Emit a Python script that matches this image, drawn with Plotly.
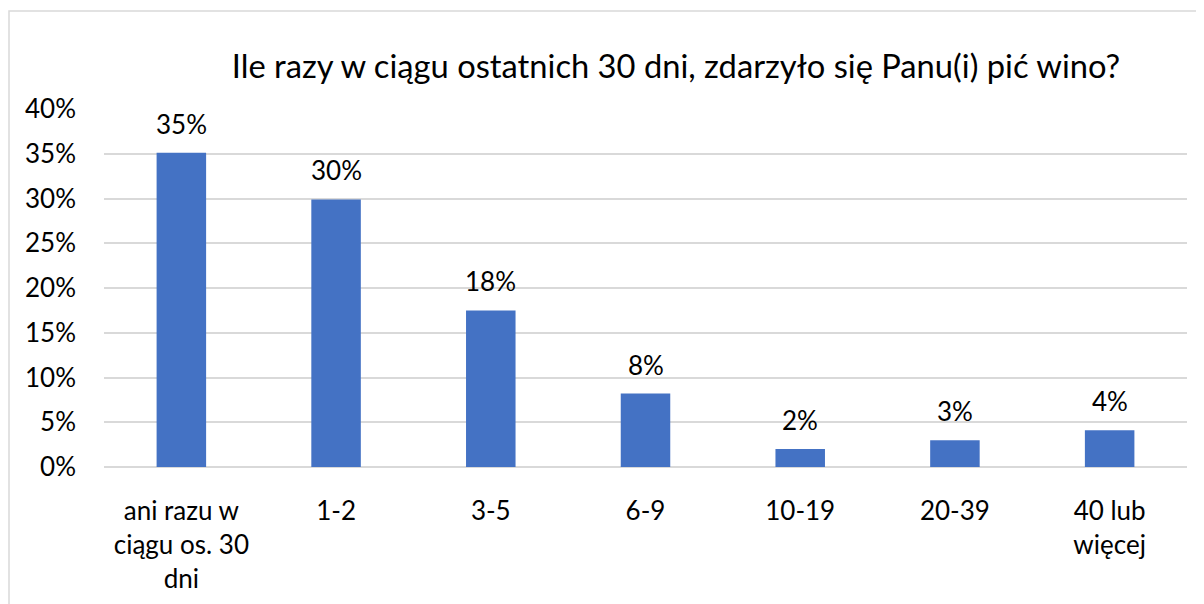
import plotly.graph_objects as go

categories = ["ani razu w<br>ciągu os. 30<br>dni", "1-2", "3-5", "6-9", "10-19", "20-39", "40 lub<br>więcej"]
values = [0.351, 0.299, 0.175, 0.082, 0.020, 0.030, 0.041]
y_ticks = [0, 0.05, 0.10, 0.15, 0.20, 0.25, 0.30, 0.35, 0.40]
title_text = "Ile razy w ciągu ostatnich 30 dni, zdarzyło się Panu(i) pić wino?"

FONT = "Lato"
OFF = 8  # page body margin
W, H = 1204 - OFF, 604 - OFF
L, R, T, B = 104 - OFF, 1204 - 1187, 109 - OFF, 604 - 467

fig = go.Figure()
fig.add_trace(go.Bar(
    x=categories, y=values,
    marker=dict(color="#4472C4", line=dict(width=0)),
    width=0.32,
    hoverinfo="skip",
))

for c, v in zip(categories, values):
    fig.add_annotation(x=c, y=v, xref="x", yref="y", text=f"{v:.0%}",
                       showarrow=False, yanchor="bottom", yshift=11,
                       font=dict(family=FONT, size=26, color="#000000"))

pw, ph = W - L - R, H - T - B
fig.add_shape(type="rect", xref="paper", yref="paper",
              x0=(9 - OFF - L) / pw, x1=(W + 20 - L) / pw,
              y0=-(B + 20) / ph, y1=(H - B - (11 - OFF)) / ph,
              line=dict(color="#D9D9D9", width=1.5), layer="below")

fig.update_layout(
    width=W, height=H,
    margin=dict(l=L, r=R, t=T, b=B, autoexpand=False),
    paper_bgcolor="white", plot_bgcolor="white",
    showlegend=False,
    title=dict(text=title_text, x=(676 - OFF) / W, xanchor="center", xref="container",
               y=1 - (67 - OFF) / H, yanchor="middle", yref="container",
               font=dict(family=FONT, size=32.7, color="#000000")),
    font=dict(family=FONT, size=26, color="#000000"),
)
fig.update_xaxes(showgrid=False, showline=False, ticks="", tickangle=0,
                 tickfont=dict(family=FONT, size=26, color="#000000"),
                 ticklabelstandoff=26)
fig.update_yaxes(range=[0, 0.4], tickvals=y_ticks, tickformat=".0%",
                 showgrid=True, gridcolor="#D9D9D9", gridwidth=1.5,
                 zeroline=True, zerolinecolor="#D9D9D9", zerolinewidth=1.5,
                 showline=False, ticks="",
                 tickfont=dict(family=FONT, size=26, color="#000000"),
                 ticklabelstandoff=27)

fig.write_html("out.html")
